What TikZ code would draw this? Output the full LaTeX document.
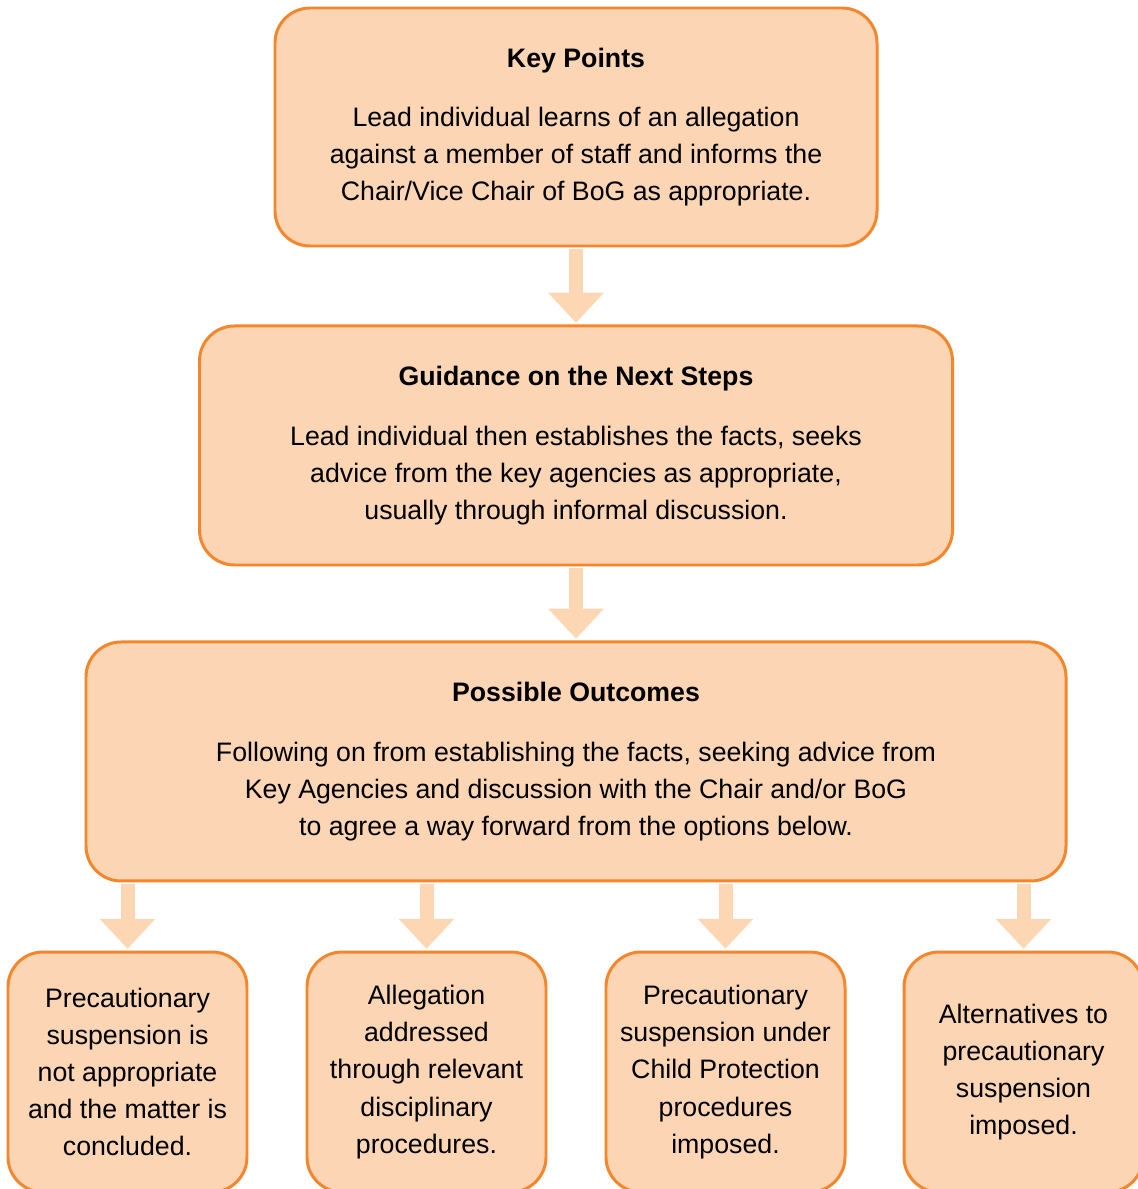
\documentclass[tikz,border=0pt]{standalone}
\usepackage{fontspec}
\setmainfont{Liberation Sans}
\usetikzlibrary{positioning,arrows.meta}
\definecolor{boxfill}{HTML}{FBD5B4}
\definecolor{boxline}{HTML}{F5862B}
\definecolor{arrowfill}{HTML}{FDD7B4}

\begin{document}
\begin{tikzpicture}[
                node distance=1.6cm,
                font=\fontsize{15.2}{21.1}\selectfont,
                block/.style={rectangle, draw=boxline, fill=boxfill, line width=1.7pt, align=center, rounded corners=0.7cm, minimum height=4.78cm},
                option/.style={block, minimum width=4.78cm, minimum height=4.8cm},
                arrow/.style={draw=arrowfill, line width=0.28cm, -{Triangle[width=1.08cm,length=0.6cm]}, shorten <=1pt, shorten >=1pt}
            ]
                \useasboundingbox (0,0) rectangle (22.74,-23.78);
                \node[block, minimum width=12.04cm, minimum height=4.76cm] (key) at (11.52,-2.54) {\textbf{Key Points}\\[0.45cm]
                    Lead individual learns of an allegation\\ against a member of staff and informs the\\ Chair/Vice Chair of BoG as appropriate.};
                \node[block, minimum width=15.06cm, below=1.54cm of key] (guide) {\textbf{Guidance on the Next Steps}\\[0.45cm]
                    Lead individual then establishes the facts, seeks\\ advice from the key agencies as appropriate,\\ usually through informal discussion.};
                \node[block, minimum width=19.6cm, below=1.48cm of guide] (outcome) {\textbf{Possible Outcomes}\\[0.45cm]
                    Following on from establishing the facts, seeking advice from\\ Key Agencies and discussion with the Chair and/or BoG\\ to agree a way forward from the options below.};
                
                \node[option] (notsusp) at (2.55,-21.44) {Precautionary\\ suspension is\\ not appropriate\\ and the matter is\\ concluded.};
                \node[option] (discip) at (8.53,-21.44) {Allegation\\ addressed\\ through relevant\\ disciplinary\\ procedures.};
                \node[option] (childprot) at (14.51,-21.44) {Precautionary\\ suspension under\\ Child Protection\\ procedures\\ imposed.};
                \node[option] (altsusp) at (20.47,-21.44) {Alternatives to\\ precautionary\\ suspension\\ imposed.};
                
                \draw[arrow] (key) -- (guide);
                \draw[arrow] (guide) -- (outcome);
                \draw[arrow] (outcome.south -| notsusp.north) -- (notsusp.north);
                \draw[arrow] (outcome.south -| discip.north) -- (discip.north);
                \draw[arrow] (outcome.south -| childprot.north) -- (childprot.north);
                \draw[arrow] (outcome.south -| altsusp.north) -- (altsusp.north);
            \end{tikzpicture}
\end{document}
